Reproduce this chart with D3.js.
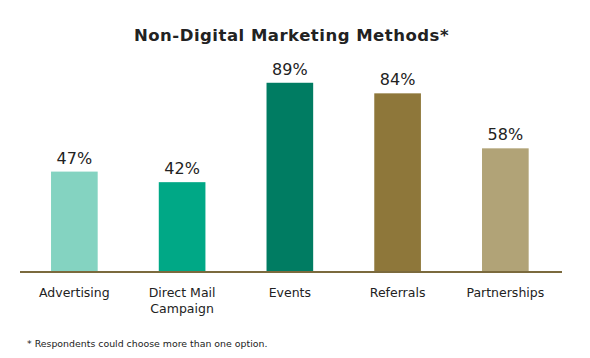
<!DOCTYPE html>
<html><head><meta charset="utf-8">
<script src="https://cdn.jsdelivr.net/npm/d3@7"></script>
<style>body{margin:0;background:#fff}svg{display:block}</style>
</head><body>
<svg id="c" width="590" height="358"></svg>
<script>
const categories = ["Advertising", "Direct Mail\nCampaign", "Events", "Referrals", "Partnerships"];
const values = [47, 42, 89, 84, 58];
const colors = ["#84d3c1", "#00a886", "#007c62", "#8e773a", "#b1a377"];
const title = "Non-Digital Marketing Methods*";
const footnote = "* Respondents could choose more than one option.";

const svg = d3.select("#c");
const font = "'DejaVu Sans', sans-serif";
const x = d3.scaleBand().domain(categories).range([20, 559.7]).paddingInner(0.567).paddingOuter(0.288);
const y = d3.scaleLinear().domain([0, 100]).range([271, 59.5]);

svg.append("text").attr("x", 291.5).attr("y", 41).attr("text-anchor", "middle")
  .attr("font-family", font).attr("font-weight", "bold").attr("font-size", 16.5)
  .attr("letter-spacing", 0.5).attr("fill", "#222").text(title);

svg.selectAll("rect.bar").data(values).join("rect").attr("class", "bar")
  .attr("x", (d, i) => x(categories[i])).attr("width", x.bandwidth())
  .attr("y", d => y(d)).attr("height", d => y(0) - y(d))
  .attr("fill", (d, i) => colors[i]);

svg.append("line").attr("x1", 20).attr("x2", 562).attr("y1", 272).attr("y2", 272)
  .attr("stroke", "#7b6a3d").attr("stroke-width", 2);

svg.selectAll("text.val").data(values).join("text").attr("class", "val")
  .attr("x", (d, i) => x(categories[i]) + x.bandwidth() / 2).attr("y", d => y(d) - 8)
  .attr("text-anchor", "middle").attr("font-family", font).attr("font-size", 16)
  .attr("fill", "#222").text(d => d + "%");

const cat = svg.selectAll("text.cat").data(categories).join("text").attr("class", "cat")
  .attr("x", d => x(d) + x.bandwidth() / 2).attr("y", 297)
  .attr("text-anchor", "middle").attr("font-family", font).attr("font-size", 12.5).attr("fill", "#222");
cat.each(function(d) {
  const lines = d.split("\n");
  d3.select(this).selectAll("tspan").data(lines).join("tspan")
    .attr("x", x(d) + x.bandwidth() / 2).attr("dy", (l, i) => i ? 15.5 : 0).text(l => l);
});

svg.append("text").attr("x", 27).attr("y", 346.5).attr("font-family", font)
  .attr("font-size", 9.4).attr("fill", "#222").text(footnote);
</script>
</body></html>
